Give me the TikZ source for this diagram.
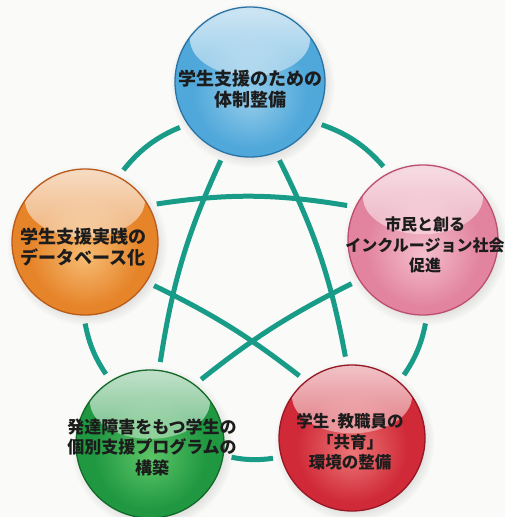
\documentclass[tikz,border=0pt]{standalone}
\usepackage{fontspec}
\newfontfamily\jp{Noto Sans CJK JP}
\usetikzlibrary{calc,backgrounds,fadings,shadows}
\definecolor{bgc}{RGB}{250,250,248}
\definecolor{teal}{RGB}{24,155,135}
\definecolor{txt}{RGB}{28,28,28}
\definecolor{blueB}{RGB}{80,168,218}
\definecolor{blueL}{RGB}{150,205,235}
\definecolor{blueD}{RGB}{40,115,165}
\definecolor{pinkB}{RGB}{226,132,160}
\definecolor{pinkL}{RGB}{244,190,205}
\definecolor{pinkD}{RGB}{190,78,112}
\definecolor{oranB}{RGB}{230,132,42}
\definecolor{oranL}{RGB}{246,188,115}
\definecolor{oranD}{RGB}{185,90,25}
\definecolor{greeB}{RGB}{32,152,66}
\definecolor{greeL}{RGB}{92,196,102}
\definecolor{greeD}{RGB}{18,105,42}
\definecolor{redB}{RGB}{208,42,56}
\definecolor{redL}{RGB}{236,118,118}
\definecolor{redD}{RGB}{150,22,36}
\colorlet{sphL}{white}
\colorlet{sphB}{gray}
\colorlet{sphD}{black}
\pgfdeclareradialshading[sphL,sphB,sphD]{sph}{\pgfpoint{0bp}{-5bp}}{color(0bp)=(sphL); color(19bp)=(sphB); color(26bp)=(sphB); color(30bp)=(sphD); color(50bp)=(sphD)}
\begin{document}
\begin{tikzpicture}[x=1pt,y=-1pt,
  sphere/.style n args={3}{circle, inner sep=0pt, draw=#3, line width=1.3pt,
    /utils/exec={\colorlet{sphL}{#2}\colorlet{sphB}{#1}\colorlet{sphD}{#3}},
    shading=sph,
    circular drop shadow={shadow xshift=2pt, shadow yshift=-3pt, opacity=.22},
    path picture={
      \fill[white, path fading=south, fill opacity=.75]
        ($(path picture bounding box.north)!0.43!(path picture bounding box.center)$)
        ellipse [x radius=60pt, y radius=37pt];
    }},
  lbl/.style={align=center, text=txt, inner sep=0pt,
    font=\jp\bfseries\fontsize{#1}{20.5}\selectfont},
  conn/.style={draw=teal, line width=5pt, shorten <=8pt, shorten >=8pt}]

\useasboundingbox (0,0) rectangle (505,517);

\node[sphere={blueB}{blueL}{blueD}, minimum size=150pt] (T)  at (250,82)  {};
\node[sphere={pinkB}{pinkL}{pinkD}, minimum size=150pt] (R)  at (423,240) {};
\node[sphere={oranB}{oranL}{oranD}, minimum size=146pt] (L)  at (85,242)  {};
\node[sphere={greeB}{greeL}{greeD}, minimum size=148pt] (BL) at (150,444) {};
\node[sphere={redB}{redL}{redD},    minimum size=146pt] (BR) at (352,438) {};

\node[lbl=18]   (Tt)  at (250,89)  {学生支援のための\\体制整備};
\node[lbl=16]   (Rt)  at (425,245) {市民と創る\\インクルージョン社会\\促進};
\node[lbl=18]   (Lt)  at (83,247)  {学生支援実践の\\データベース化};
\node[lbl=17]   (BLt) at (152,447) {発達障害をもつ学生の\\個別支援プログラムの\\構築};
\node[lbl=16.5] (BRt) at (350,442) {学生･教職員の\\「共育」\\環境の整備};

\begin{scope}[on background layer]
  \fill[bgc] (0,0) rectangle (505,517);
  \draw[conn] (T.214) to[bend right=14.5] (L.63);
  \draw[conn] (T.328) to[bend left=15] (R.117);
  \draw[conn] (L.269) to[bend right=12] (BL.122);
  \draw[conn] (R.273) to[bend left=12] (BR.50);
  \draw[conn] (BL.351) to[bend right=10] (BR.195);
  \draw[conn] (L.30) to[bend left=9] (R.154);
  \draw[conn] (L.-33) to[bend left=6] (BR.129);
  \draw[conn] (R.212) to[bend right=6] (BL.53);
  \draw[conn] (T.250) to[bend right=8] (BL.83);
  \draw[conn] (T.290) to[bend left=8] (BR.94);
\end{scope}
\end{tikzpicture}
\end{document}
